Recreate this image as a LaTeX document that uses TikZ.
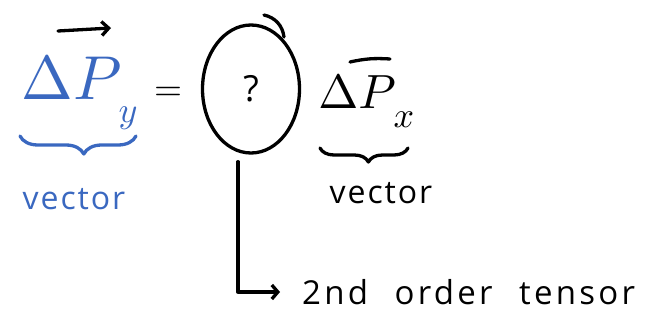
\documentclass[tikz,border=0pt]{standalone}
\usepackage{graphicx}
\usepackage{fontspec}
\setmainfont{Open Sans}
\usetikzlibrary{shapes.geometric,arrows.meta,decorations.pathreplacing}
\definecolor{inkblue}{HTML}{3A68C0}
\newcommand{\scaledmath}[2]{\scalebox{#1}{$#2$}}
\begin{document}
\begin{tikzpicture}[x=1pt,y=-1pt,
  ink/.style={line width=3.3pt,line cap=round,line join=round},
  mathnode/.style={inner sep=0pt},
  hand/.style={inner sep=0pt,font=\fontsize{32}{32}\selectfont\addfontfeature{LetterSpace=6}},
  bracestyle/.style={ink,decorate,decoration={brace,mirror,amplitude=18pt,aspect=0.55}}]
\useasboundingbox (0,0) rectangle (654,329);
% left: Delta P_y (blue)
\node[mathnode,text=inkblue] (dpy) at (72,78) {\scaledmath{6.2}{\Delta P}};
\node[mathnode,text=inkblue] (suby) at (128,118) {\scaledmath{3.6}{y}};
\draw[ink,-{Straight Barb[length=7pt,width=14pt]}] (58,31) -- (111,28);
\node[mathnode] (eq) at (168,94) {\scaledmath{3.6}{=}};
% ellipse with ?
\node[ink,draw,ellipse,minimum width=97pt,minimum height=128pt,inner sep=0pt,font=\fontsize{36}{36}\selectfont] (q) at (251,89) {?};
\draw[ink] (264,15) to[bend left=35] (284,37);
% right: Delta P_x (black)
\node[mathnode] (dpx) at (357,92) {\scaledmath{4.8}{\Delta P}};
\node[mathnode] (subx) at (404,120) {\scaledmath{3.6}{x}};
\draw[ink] (350,62) to[bend left=8] (390,59);
% braces
\draw[bracestyle,draw=inkblue] (20,136) -- (136,136);
\draw[bracestyle,draw=black,decoration={amplitude=14pt}] (320,148) -- (408,148);
% labels
\node[hand,text=inkblue] (vecl) at (74,199) {vector};
\node[hand] (vecr) at (381,193) {vector};
\node[hand,anchor=west,font=\fontsize{33}{33}\selectfont\addfontfeature{LetterSpace=10}] (tensor) at (302,292) {2nd\hspace{0.8em}order\hspace{0.8em}tensor};
% connector
\draw[ink,-{Straight Barb[length=6pt,width=14pt]},shorten >=22pt] ([xshift=-13pt,yshift=-7pt]q.south) |- (tensor.west);
\end{tikzpicture}
\end{document}
